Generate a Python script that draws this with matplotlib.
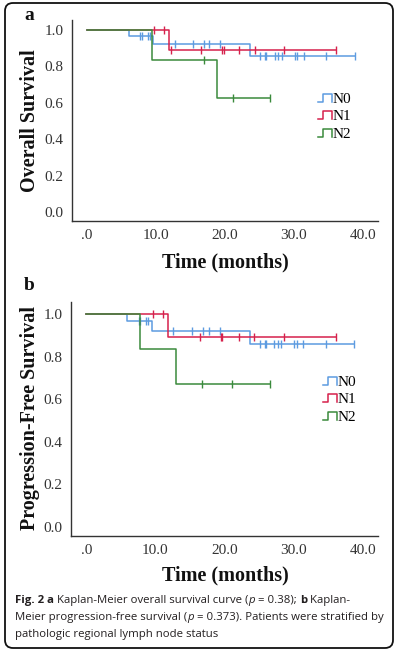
import numpy as np
import matplotlib
matplotlib.use("Agg")
import matplotlib.pyplot as plt
from matplotlib.lines import Line2D
from matplotlib.legend_handler import HandlerBase
from matplotlib.patches import FancyBboxPatch

# ---- data (months, survival) ----
groups = ["N0", "N1", "N2"]
colors = {"N0": "#5d9be0", "N1": "#d6214c", "N2": "#3a8a3c"}

# overall survival
os_n0_times = [0, 6.0, 9.6, 23.7]
os_n0_surv = [1.0, 0.967, 0.921, 0.857]
os_n0_cens = [7.7, 8.0, 8.8, 9.1, 12.75, 15.4, 16.9, 17.7, 19.3, 25.1, 25.8, 26.0,
              27.2, 27.7, 28.2, 30.1, 30.5, 31.4, 34.7, 38.8]
os_n1_times = [0, 11.9]
os_n1_surv = [1.0, 0.889]
os_n1_cens = [9.75, 11.2, 12.1, 16.5, 19.5, 19.8, 22.1, 24.3, 28.6, 36.1]
os_n2_times = [0, 9.4, 18.9]
os_n2_surv = [1.0, 0.833, 0.625]
os_n2_cens = [16.9, 21.2, 26.6]

# progression-free survival
pfs_n0_times = [0, 5.85, 9.5, 23.7]
pfs_n0_surv = [1.0, 0.967, 0.921, 0.859]
pfs_n0_cens = [7.6, 7.8, 8.6, 9.0, 12.6, 15.3, 16.9, 17.7, 19.3, 25.1, 25.8, 26.0,
               27.2, 27.7, 28.2, 30.1, 30.5, 31.4, 34.7, 38.8]
pfs_n1_times = [0, 11.8]
pfs_n1_surv = [1.0, 0.892]
pfs_n1_cens = [9.6, 11.1, 16.5, 19.5, 19.7, 22.1, 24.3, 28.6, 36.1]
pfs_n2_times = [0, 7.8, 13.0]
pfs_n2_surv = [1.0, 0.836, 0.669]
pfs_n2_cens = [16.8, 21.1, 26.6]

xticks = [0, 10, 20, 30, 40]
xticklabels = [".0", "10.0", "20.0", "30.0", "40.0"]
yticks = [0.0, 0.2, 0.4, 0.6, 0.8, 1.0]

SERIF = "Liberation Serif"


class StepHandler(HandlerBase):
    # little step glyph like the SPSS legend
    def create_artists(self, legend, orig_handle, xdescent, ydescent, width, height, fontsize, trans):
        xs = np.array([0, 0.35, 0.35, 1.0, 1.0]) * width - xdescent
        ys = np.array([0.1, 0.1, 0.85, 0.85, 0.1]) * height - ydescent
        ln = Line2D(xs, ys, color=orig_handle.get_color(), lw=1.1, transform=trans)
        return [ln]


def step_at(times, surv, t):
    idx = np.searchsorted(times, t, side="right") - 1
    return np.array(surv)[idx]


def km_panel(ax, curves):
    handles = []
    for g, (times, surv, cens) in zip(groups, curves):
        end = max(max(cens), times[-1])
        xs = list(times) + [end]
        ys = list(surv) + [surv[-1]]
        ax.step(xs, ys, where="post", color=colors[g], lw=1.1)
        ax.plot(cens, step_at(times, surv, cens), ls="none", marker="|",
                ms=5.5, mew=1.0, color=colors[g])
        handles.append(Line2D([], [], color=colors[g]))
    ax.set_xlim(-2.2, 42.2)
    ax.set_xticks(xticks)
    ax.set_xticklabels(xticklabels)
    ax.set_yticks(yticks)
    ax.set_yticklabels(["%.1f" % v for v in yticks])
    ax.patch.set_alpha(0)
    for s in ["top", "right"]:
        ax.spines[s].set_visible(False)
    for s in ["left", "bottom"]:
        ax.spines[s].set_color("#333333")
        ax.spines[s].set_linewidth(1.0)
    ax.tick_params(length=0, labelsize=11, labelcolor="#333333", pad=6)
    for lab in ax.get_xticklabels() + ax.get_yticklabels():
        lab.set_fontfamily(SERIF)
    return handles


fig = plt.figure(figsize=(3.97, 6.54), dpi=100)
W, H = 397.0, 654.0

frame = FancyBboxPatch((0.05, 0.06), 3.88, 6.45, boxstyle="round,pad=0,rounding_size=0.08",
                       transform=fig.dpi_scale_trans, fc="none", ec="#111111", lw=1.3, zorder=-5)
fig.patches.append(frame)

leg_kw = dict(handler_map={Line2D: StepHandler()}, frameon=False, loc="upper left",
              prop={"family": SERIF, "size": 11}, handlelength=0.9, handletextpad=0.05,
              labelspacing=0.25, borderpad=0, borderaxespad=0)

# panel a
ax1 = fig.add_axes([72 / W, 1 - 221 / H, 306 / W, 201 / H])
ax1.set_ylim(-0.05, 1.055)
h1 = km_panel(ax1, [(os_n0_times, os_n0_surv, os_n0_cens),
                    (os_n1_times, os_n1_surv, os_n1_cens),
                    (os_n2_times, os_n2_surv, os_n2_cens)])
ax1.legend(h1, groups, bbox_to_anchor=(246 / 306, 1 - 72 / 201), **leg_kw)

# panel b
ax2 = fig.add_axes([71 / W, 1 - 536 / H, 307 / W, 234 / H])
ax2.set_ylim(-0.042, 1.056)
h2 = km_panel(ax2, [(pfs_n0_times, pfs_n0_surv, pfs_n0_cens),
                    (pfs_n1_times, pfs_n1_surv, pfs_n1_cens),
                    (pfs_n2_times, pfs_n2_surv, pfs_n2_cens)])
ax2.legend(h2, groups, bbox_to_anchor=(252 / 307, 1 - 73 / 234), **leg_kw)

# labels
lab_kw = dict(fontfamily=SERIF, fontweight="bold", fontsize=14.5, color="#111111")
fig.text(30 / W, 1 - 121 / H, "Overall Survival", rotation=90, ha="center", va="center", **lab_kw)
fig.text(30 / W, 1 - 418 / H, "Progression-Free Survival", rotation=90, ha="center", va="center", **lab_kw)
fig.text(225 / W, 1 - 262 / H, "Time (months)", ha="center", va="center", **lab_kw)
fig.text(225 / W, 1 - 575 / H, "Time (months)", ha="center", va="center", **lab_kw)
fig.text(29 / W, 1 - 16 / H, "a", ha="center", va="center", fontfamily=SERIF,
         fontweight="bold", fontsize=14, color="#111111")
fig.text(29 / W, 1 - 286 / H, "b", ha="center", va="center", fontfamily=SERIF,
         fontweight="bold", fontsize=14, color="#111111")

# caption, pieced together run by run on a shared baseline
CAP = "Open Sans"
cap_size = 8.2
cap_col = "#231f20"
lines = [
    [("Fig. 2", "bold", "normal"), (" a", "bold", "normal"),
     (" Kaplan-Meier overall survival curve (", "normal", "normal"), ("p", "normal", "italic"),
     (" = 0.38); ", "normal", "normal"), ("b", "bold", "normal"), (" Kaplan-", "normal", "normal")],
    [("Meier progression-free survival (", "normal", "normal"), ("p", "normal", "italic"),
     (" = 0.373). Patients were stratified by", "normal", "normal")],
    [("pathologic regional lymph node status", "normal", "normal")],
]
line_y = [603, 620, 637]
renderer = fig.canvas.get_renderer()
for runs, yy in zip(lines, line_y):
    xpx = 15.0
    for txt, wt, st in runs:
        t = fig.text(xpx / W, 1 - yy / H, txt, fontfamily=CAP, fontsize=cap_size, fontweight=wt,
                     fontstyle=st, color=cap_col, va="baseline", ha="left")
        xpx += t.get_window_extent(renderer).width

fig.savefig("out.png", dpi=100)
